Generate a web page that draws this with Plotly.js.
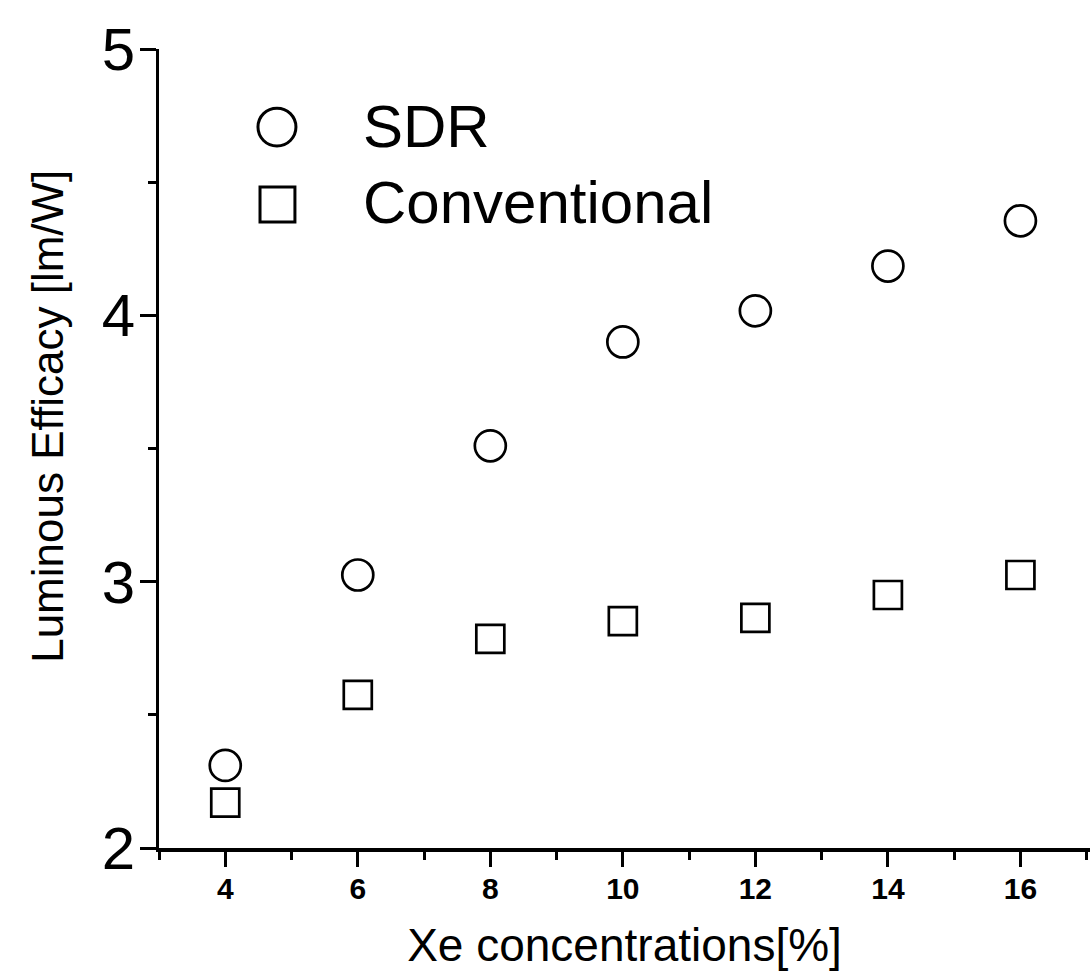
<!DOCTYPE html>
<html>
<head>
<meta charset="utf-8">
<script src="https://cdn.plot.ly/plotly-3.0.1.min.js"></script>
<style>html,body{margin:0;padding:0;background:#fff;}#chart{width:1090px;height:980px;}</style>
</head>
<body>
<div id="chart"></div>
<script>
// Data
const xeConcentration = [4, 6, 8, 10, 12, 14, 16];
const sdrEfficacy = [2.31, 3.025, 3.51, 3.90, 4.017, 4.185, 4.355];
const conventionalEfficacy = [2.17, 2.575, 2.785, 2.852, 2.864, 2.95, 3.025];
const seriesNames = ['SDR', 'Conventional'];
const xTickValues = [4, 6, 8, 10, 12, 14, 16];
const yTickValues = [2, 3, 4, 5];
const xTitle = 'Xe concentrations[%]';
const yTitle = 'Luminous Efficacy [lm/W]';

const FONT = 'Liberation Sans, Arial, Helvetica, sans-serif';

const traces = [
  {
    x: xeConcentration, y: sdrEfficacy, name: seriesNames[0],
    type: 'scatter', mode: 'markers', showlegend: false, cliponaxis: false,
    marker: {symbol: 'circle-open', size: 31, color: '#000', line: {color: '#000', width: 2.7}}
  },
  {
    x: xeConcentration, y: conventionalEfficacy, name: seriesNames[1],
    type: 'scatter', mode: 'markers', showlegend: false, cliponaxis: false,
    marker: {symbol: 'square-open', size: 28, color: '#000', line: {color: '#000', width: 2.7}}
  }
];

const layout = {
  width: 1090, height: 980,
  paper_bgcolor: '#fff', plot_bgcolor: '#fff',
  margin: {l: 159, r: 0, t: 49, b: 132},
  showlegend: false,
  font: {family: FONT, color: '#000'},
  xaxis: {
    range: [3, 17.05], tickvals: xTickValues, ticktext: xTickValues.map(String),
    showgrid: false, zeroline: false, showline: true, linecolor: '#000', linewidth: 4,
    ticks: 'outside', ticklen: 15, tickwidth: 3, tickcolor: '#000',
    tickfont: {family: FONT, size: 30, color: '#000', weight: 'bold'},
    ticklabelstandoff: -4,
    minor: {tickvals: [3, 5, 7, 9, 11, 13, 15, 17], ticks: 'outside', ticklen: 8, tickwidth: 3, tickcolor: '#000'},
    title: {text: xTitle, font: {family: FONT, size: 46, color: '#000'}, standoff: 26}
  },
  yaxis: {
    range: [2, 5], tickvals: yTickValues, ticktext: yTickValues.map(String),
    showgrid: false, zeroline: false, showline: true, linecolor: '#000', linewidth: 3,
    ticks: 'outside', ticklen: 16, tickwidth: 3, tickcolor: '#000',
    tickfont: {family: FONT, size: 60, color: '#000'},
    ticklabelstandoff: -7,
    minor: {tickvals: [2.5, 3.5, 4.5], ticks: 'outside', ticklen: 8, tickwidth: 3, tickcolor: '#000'}
  },
  shapes: [
    {type: 'circle', xref: 'paper', yref: 'paper', x0: 0.1063, x1: 0.1471, y0: 0.8786, y1: 0.926,
     line: {color: '#000', width: 3}},
    {type: 'rect', xref: 'paper', yref: 'paper', x0: 0.1085, x1: 0.146, y0: 0.7835, y1: 0.8273,
     line: {color: '#000', width: 3}}
  ],
  annotations: [
    {text: seriesNames[0], xref: 'paper', yref: 'paper', x: 0.2170, y: 0.9035, xanchor: 'left', yanchor: 'middle',
     showarrow: false, font: {family: FONT, size: 60, color: '#000'}},
    {text: seriesNames[1], xref: 'paper', yref: 'paper', x: 0.2170, y: 0.808, xanchor: 'left', yanchor: 'middle',
     showarrow: false, font: {family: FONT, size: 60, color: '#000'}},
    {text: yTitle, xref: 'paper', yref: 'paper', x: -0.12, y: 0.54, xanchor: 'center', yanchor: 'middle',
     textangle: -90, showarrow: false, font: {family: FONT, size: 44, color: '#000'}}
  ]
};

Plotly.newPlot('chart', traces, layout, {staticPlot: true, displayModeBar: false});
</script>
</body>
</html>
